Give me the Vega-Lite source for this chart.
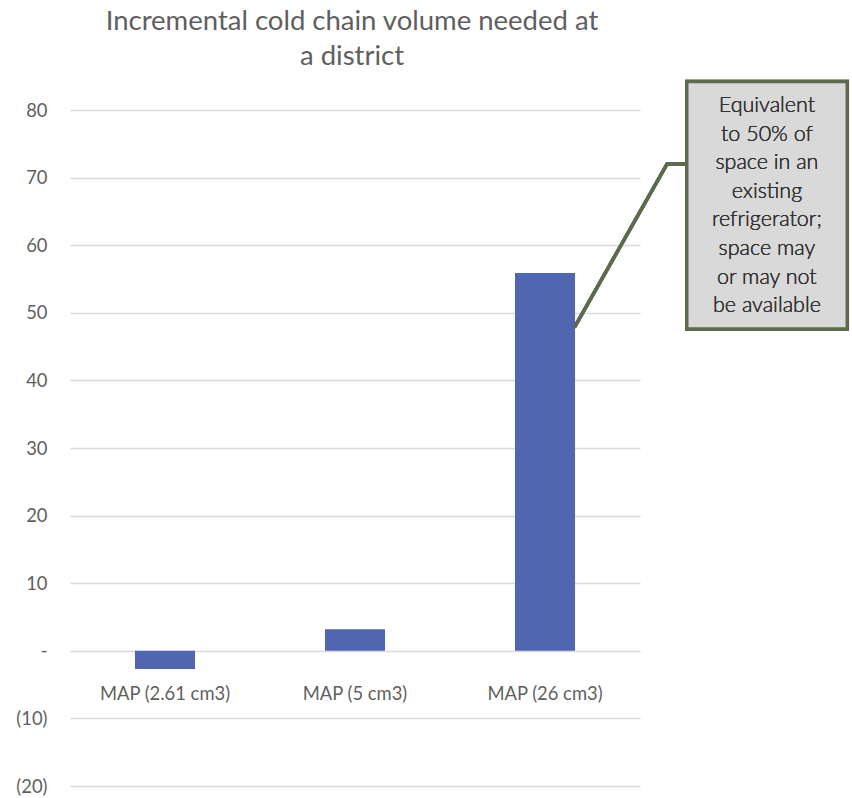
{
  "$schema": "https://vega.github.io/schema/vega-lite/v6.json",
  "width": 570,
  "height": 676,
  "autosize": "none",
  "padding": {"left": 70, "top": 110, "right": 212, "bottom": 12},
  "background": "white",
  "config": {
    "view": {"stroke": null},
    "font": "Lato"
  },
  "title": {
    "text": ["Incremental cold chain volume needed at", "a district"],
    "anchor": "middle",
    "dx": -3,
    "offset": 9,
    "fontSize": 27.5,
    "fontWeight": 400,
    "lineHeight": 35,
    "color": "#5f5f5f",
    "font": "Lato"
  },
  "data": {
    "values": [
      {"product": "MAP (2.61 cm3)", "volume": -2.7},
      {"product": "MAP (5 cm3)", "volume": 3.2},
      {"product": "MAP (26 cm3)", "volume": 55.9}
    ]
  },
  "layer": [
    {
      "mark": {"type": "bar", "color": "#5066b1", "width": {"band": 0.316}},
      "encoding": {
        "x": {
          "field": "product",
          "type": "nominal",
          "sort": null,
          "scale": {"paddingInner": 0, "paddingOuter": 0},
          "axis": {
            "title": null,
            "offset": -135,
            "domain": false,
            "ticks": false,
            "grid": false,
            "labelAngle": 0,
            "labelPadding": 33,
            "labelFontSize": 18.4,
            "labelFontWeight": 400,
            "labelColor": "#5f5f5f",
            "labelFont": "Lato"
          }
        },
        "y": {
          "field": "volume",
          "type": "quantitative",
          "scale": {"domain": [-20, 80], "nice": false, "zero": false},
          "axis": {
            "title": null,
            "values": [-20, -10, 0, 10, 20, 30, 40, 50, 60, 70, 80],
            "domain": false,
            "ticks": false,
            "gridColor": "#d9d9d9",
            "gridWidth": 1.3,
            "labelPadding": 23,
            "labelFontSize": 18.4,
            "labelFontWeight": 400,
            "labelColor": "#5f5f5f",
            "labelFont": "Lato",
            "labelExpr": "datum.value == 0 ? '-' : (datum.value < 0 ? '(' + abs(datum.value) + ')' : datum.value)"
          }
        }
      }
    },
    {
      "layer": [
        {
          "mark": {"type": "rule", "color": "#5e6a4d", "strokeWidth": 3.5, "strokeCap": "round"},
          "encoding": {
            "x": {"datum": 2.658, "type": "quantitative", "scale": {"domain": [0, 3], "nice": false, "zero": false}, "axis": null},
            "x2": {"datum": 3.142},
            "y": {"datum": 48.0, "type": "quantitative"},
            "y2": {"datum": 72.0}
          }
        },
        {
          "mark": {"type": "rule", "color": "#5e6a4d", "strokeWidth": 3.5, "strokeCap": "round"},
          "encoding": {
            "x": {"datum": 3.142, "type": "quantitative", "scale": {"domain": [0, 3], "nice": false, "zero": false}, "axis": null},
            "x2": {"datum": 3.246},
            "y": {"datum": 72.0, "type": "quantitative"},
            "y2": {"datum": 72.0}
          }
        },
        {
          "mark": {"type": "rect", "fill": "#d9d9d9", "stroke": "#5e6a4d", "strokeWidth": 3.5},
          "encoding": {
            "x": {"datum": 3.246, "type": "quantitative", "scale": {"domain": [0, 3], "nice": false, "zero": false}, "axis": null},
            "x2": {"datum": 4.091},
            "y": {"datum": 84.2, "type": "quantitative"},
            "y2": {"datum": 47.6}
          }
        },
        {
          "mark": {
            "type": "text",
            "text": ["Equivalent", "to 50% of", "space in an", "existing", "refrigerator;", "space may", "or may not", "be available"],
            "align": "center",
            "baseline": "middle",
            "fontSize": 21.5,
            "fontWeight": 300,
            "lineHeight": 28.6,
            "color": "#333333",
            "font": "Lato"
          },
          "encoding": {
            "x": {"datum": 3.668, "type": "quantitative", "scale": {"domain": [0, 3], "nice": false, "zero": false}, "axis": null},
            "y": {"datum": 80.6, "type": "quantitative"}
          }
        }
      ]
    }
  ],
  "resolve": {"scale": {"x": "independent"}}
}
